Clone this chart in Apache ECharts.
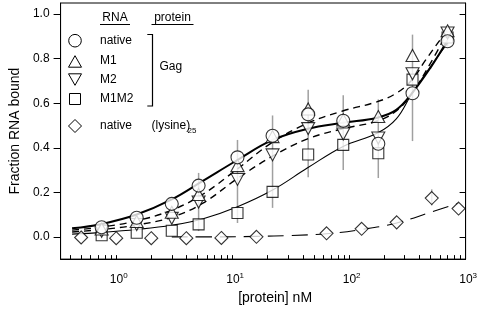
<!DOCTYPE html>
<html><head><meta charset="utf-8">
<script src="https://cdn.jsdelivr.net/npm/echarts@6/dist/echarts.min.js"></script>
<style>html,body{margin:0;padding:0;background:#fff}#c{width:480px;height:310px}</style>
</head><body><div id="c"></div>
<script>
// ---- data ----
const gagConc   = [0.75, 1.5, 3.0, 5.1, 11, 22, 44.5, 89, 178, 350, 700];
const nativeGag = [0.043, 0.086, 0.148, 0.23, 0.357, 0.454, 0.55, 0.521, 0.418, 0.645, 0.878];
const m1Gag     = [0.035, 0.069, 0.11, 0.19, 0.32, 0.45, 0.574, 0.525, 0.54, 0.814, 0.925];
const m2Gag     = [0.025, 0.055, 0.083, 0.156, 0.258, 0.368, 0.486, 0.462, 0.444, 0.732, 0.915];
const m1m2Gag   = [0.007, 0.018, 0.027, 0.056, 0.107, 0.202, 0.37, 0.413, 0.375, 0.706, 0.895];

const lysConc   = [0.5, 1, 2, 4, 8, 16, 64, 128, 256, 512, 870];
const lysVal    = [-0.003, -0.006, -0.006, -0.006, -0.005, 0.0, 0.016, 0.036, 0.065, 0.174, 0.127];

const errConc   = [5.1, 11, 22, 44.5, 89, 178, 350, 700, 512];
const errLow    = [0.026, 0.062, 0.13, 0.268, 0.30, 0.264, 0.43, 0.855, 0.141];
const errHigh   = [0.287, 0.435, 0.545, 0.66, 0.636, 0.617, 0.908, 0.94, 0.213];

// fitted curves
const fitNativeX = [0.418, 0.757, 1.5, 3.0, 5.5, 11, 22, 44, 88, 175, 254, 347, 500, 700];
const fitNativeY = [0.038, 0.058, 0.100, 0.168, 0.25, 0.345, 0.435, 0.485, 0.512, 0.535, 0.57, 0.645, 0.76, 0.883];
const fitM1X = [0.418, 0.757, 1.5, 3.0, 5.5, 11, 22, 44, 88, 175, 254, 347, 448, 615, 700];
const fitM1Y = [0.030, 0.044, 0.072, 0.12, 0.19, 0.305, 0.425, 0.51, 0.565, 0.607, 0.645, 0.705, 0.79, 0.89, 0.93];
const fitM2X = [0.418, 0.757, 1.5, 3.0, 5.5, 11, 22, 44, 88, 175, 254, 347, 500, 700];
const fitM2Y = [0.022, 0.033, 0.053, 0.088, 0.15, 0.262, 0.362, 0.44, 0.485, 0.52, 0.565, 0.645, 0.78, 0.92];
const fitM1M2X = [0.418, 0.757, 1.5, 3.0, 5.5, 11, 22, 44, 88, 175, 254, 347, 500, 700];
const fitM1M2Y = [0.012, 0.020, 0.033, 0.052, 0.08, 0.135, 0.21, 0.31, 0.405, 0.466, 0.53, 0.645, 0.765, 0.87];
const fitLysX = [3, 8, 16, 32, 64, 128, 256, 512, 877];
const fitLysY = [0.0, 0.0, 0.002, 0.006, 0.014, 0.033, 0.062, 0.112, 0.151];

const yTickVals = [0, 0.2, 0.4, 0.6, 0.8, 1.0];
const xDecades  = [0, 1, 2, 3];
const xRange = [0.333, 1000];
const yRange = [-0.1, 1.05];

// ---- build ----
const L = Math.log10;
const pts = (xs, ys) => xs.map((x, i) => [L(x), ys[i]]);
const xMinor = [];
[0.1, 1, 10, 100].forEach(d => { for (let k = 1; k < 10; k++) { const v = d * k; if (v >= 0.39 && v <= 1000) xMinor.push(L(v)); } });
xMinor.push(3);

const FONT = 'Liberation Sans, Arial, Helvetica, sans-serif';
const chart = echarts.init(document.getElementById('c'));

const sym = (name, sz, rot) => ({
  type: 'scatter', symbol: name, symbolSize: sz, symbolRotate: rot || 0,
  itemStyle: { color: '#fff', borderColor: '#000', borderWidth: 1.1 }, z: 5, silent: true
});
const curve = (xs, ys, w, dash) => ({
  type: 'line', data: pts(xs, ys), showSymbol: false, smooth: 0.4, z: 3, silent: true,
  lineStyle: { color: '#000', width: w, type: dash || 'solid' }
});

const option = {
  animation: false,
  backgroundColor: '#fff',
  grid: { left: 47, top: 3, width: 422, height: 265, show: true, borderColor: '#000', borderWidth: 1, backgroundColor: 'transparent' },
  xAxis: {
    type: 'value', min: L(xRange[0]), max: L(xRange[1]),
    axisLine: { onZero: false, lineStyle: { color: '#000', width: 1 } },
    splitLine: { show: false },
    axisTick: { inside: true, length: 4, customValues: xMinor, lineStyle: { color: '#000' } },
    axisLabel: {
      customValues: xDecades, margin: 13, color: '#000',
      formatter: v => '{p|}{b|10}{s|' + Math.round(v) + '}',
      rich: {
        p: { width: 5 },
        b: { fontSize: 12, fontFamily: FONT, color: '#000', lineHeight: 16 },
        s: { fontSize: 8, fontFamily: FONT, color: '#000', verticalAlign: 'top', lineHeight: 16, padding: [0, 0, 6, 0] }
      }
    },
    name: '[protein] nM', nameLocation: 'middle', nameGap: 30,
    nameTextStyle: { fontSize: 14, fontFamily: FONT, color: '#000', padding: [0, 0, 0, 24] }
  },
  yAxis: [{
    type: 'value', min: yRange[0], max: yRange[1],
    axisLine: { show: true, onZero: false, lineStyle: { color: '#000', width: 1 } },
    splitLine: { show: false },
    axisTick: { show: true, inside: false, length: 7, customValues: yTickVals, lineStyle: { color: '#000' } },
    axisLabel: { customValues: yTickVals, margin: 11, color: '#000', fontSize: 12, fontFamily: FONT, formatter: v => v.toFixed(1) },
    name: 'Fraction RNA bound', nameLocation: 'middle', nameGap: 38, nameRotate: 90,
    nameTextStyle: { fontSize: 14, fontFamily: FONT, color: '#000' }
  }, {
    type: 'value', position: 'right', min: yRange[0], max: yRange[1],
    axisLine: { show: true, onZero: false, lineStyle: { color: '#000', width: 1 } },
    splitLine: { show: false },
    axisTick: { show: true, inside: true, length: 6, customValues: yTickVals, lineStyle: { color: '#000' } },
    axisLabel: { show: false }
  }],
  series: [
    {
      type: 'custom', z: 1, silent: true,
      data: errConc.map((c, i) => [L(c), errLow[i], errHigh[i]]),
      renderItem: (params, api) => {
        const a = api.coord([api.value(0), api.value(1)]);
        const b = api.coord([api.value(0), api.value(2)]);
        return { type: 'line', shape: { x1: a[0], y1: a[1], x2: b[0], y2: b[1] }, style: { stroke: '#a0a0a0', lineWidth: 1.5 } };
      }
    },
    curve(fitNativeX, fitNativeY, 2),
    curve(fitM1X, fitM1Y, 1.4, [7, 5]),
    curve(fitM2X, fitM2Y, 1.4, [7, 5]),
    curve(fitM1M2X, fitM1M2Y, 1.1),
    curve(fitLysX, fitLysY, 1.1, [16, 8]),
    Object.assign(sym('rect', 11), { data: pts(gagConc, m1m2Gag) }),
    Object.assign(sym('triangle', [13, 12], 180), { data: pts(gagConc, m2Gag) }),
    Object.assign(sym('triangle', [13, 12]), { data: pts(gagConc, m1Gag) }),
    Object.assign(sym('circle', 13), { data: pts(gagConc, nativeGag) }),
    Object.assign(sym('diamond', [13, 13]), { data: pts(lysConc, lysVal) })
  ],
  graphic: [
    { type: 'text', x: 115, y: 18, style: { text: 'RNA', font: '12px ' + FONT, fill: '#000', align: 'center', verticalAlign: 'middle' } },
    { type: 'line', shape: { x1: 100, y1: 24.5, x2: 130, y2: 24.5 }, style: { stroke: '#000', lineWidth: 1 } },
    { type: 'text', x: 172.5, y: 18, style: { text: 'protein', font: '12px ' + FONT, fill: '#000', align: 'center', verticalAlign: 'middle' } },
    { type: 'line', shape: { x1: 151.5, y1: 24.5, x2: 193.5, y2: 24.5 }, style: { stroke: '#000', lineWidth: 1 } },
    { type: 'circle', shape: { cx: 75, cy: 40.7, r: 6.3 }, style: { fill: '#fff', stroke: '#000', lineWidth: 1 } },
    { type: 'polygon', shape: { points: [[75, 55.7], [81.5, 67.2], [68.5, 67.2]] }, style: { fill: '#fff', stroke: '#000', lineWidth: 1 } },
    { type: 'polygon', shape: { points: [[68.5, 73.8], [81.5, 73.8], [75, 85.3]] }, style: { fill: '#fff', stroke: '#000', lineWidth: 1 } },
    { type: 'rect', shape: { x: 69.5, y: 93.5, width: 11, height: 11 }, style: { fill: '#fff', stroke: '#000', lineWidth: 1 } },
    { type: 'polygon', shape: { points: [[75, 119.5], [81.5, 126], [75, 132.5], [68.5, 126]] }, style: { fill: '#fff', stroke: '#000', lineWidth: 1 } },
    { type: 'text', x: 100, y: 40.5, style: { text: 'native', font: '12px ' + FONT, fill: '#000', verticalAlign: 'middle' } },
    { type: 'text', x: 100, y: 61, style: { text: 'M1', font: '12px ' + FONT, fill: '#000', verticalAlign: 'middle' } },
    { type: 'text', x: 100, y: 79.5, style: { text: 'M2', font: '12px ' + FONT, fill: '#000', verticalAlign: 'middle' } },
    { type: 'text', x: 100, y: 99, style: { text: 'M1M2', font: '12px ' + FONT, fill: '#000', verticalAlign: 'middle' } },
    { type: 'text', x: 100, y: 126, style: { text: 'native', font: '12px ' + FONT, fill: '#000', verticalAlign: 'middle' } },
    { type: 'polyline', shape: { points: [[147.3, 34.5], [152.5, 34.5], [152.5, 106], [147.3, 106]] }, style: { stroke: '#000', lineWidth: 1.2, fill: null } },
    { type: 'text', x: 159.5, y: 67, style: { text: 'Gag', font: '12px ' + FONT, fill: '#000', verticalAlign: 'middle' } },
    { type: 'text', x: 151.5, y: 126, style: { text: '(lysine)', font: '12px ' + FONT, fill: '#000', verticalAlign: 'middle' } },
    { type: 'text', x: 187.5, y: 131, style: { text: '25', font: '8px ' + FONT, fill: '#000', verticalAlign: 'middle' } }
  ]
};
chart.setOption(option);
</script></body></html>
